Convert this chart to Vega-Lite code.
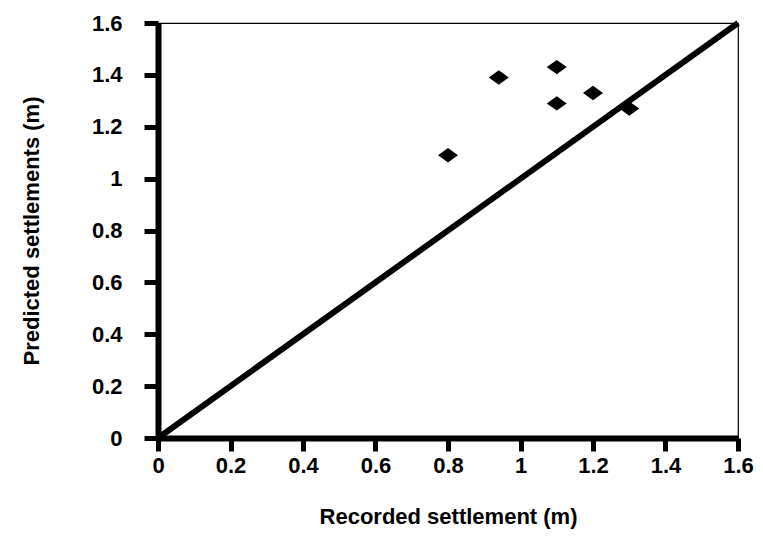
{
  "$schema": "https://vega.github.io/schema/vega-lite/v6.json",
  "width": 580,
  "height": 415,
  "autosize": {"type": "none"},
  "padding": {"left": 158, "top": 23, "right": 25, "bottom": 113},
  "background": "white",
  "config": {
    "view": {"stroke": "black", "strokeWidth": 1.2},
    "axis": {
      "grid": false,
      "labelFont": "Liberation Sans", "labelFontWeight": "bold", "labelFontSize": 22, "labelColor": "black",
      "titleFont": "Liberation Sans", "titleFontWeight": "bold", "titleFontSize": 22, "titleColor": "black",
      "domainColor": "black", "domainWidth": 6,
      "tickColor": "black", "tickWidth": 5, "tickSize": 13
    }
  },
  "encoding": {
    "x": {
      "field": "x", "type": "quantitative",
      "scale": {"domain": [0, 1.6], "nice": false},
      "axis": {
        "title": "Recorded settlement (m)",
        "values": [0, 0.2, 0.4, 0.6, 0.8, 1, 1.2, 1.4, 1.6],
        "format": ".1~f",
        "labelFlush": false, "labelOverlap": false,
        "domainWidth": 6, "tickWidth": 5, "tickSize": 13,
        "labelPadding": 4, "titlePadding": 30
      }
    },
    "y": {
      "field": "y", "type": "quantitative",
      "scale": {"domain": [0, 1.6], "nice": false},
      "axis": {
        "title": "Predicted settlements (m)",
        "values": [0, 0.2, 0.4, 0.6, 0.8, 1, 1.2, 1.4, 1.6],
        "format": ".1~f",
        "labelFlush": false, "labelOverlap": false,
        "domainWidth": 6, "tickWidth": 5, "tickSize": 14,
        "labelPadding": 22, "titlePadding": 48
      }
    }
  },
  "layer": [
    {
      "data": {"values": [{"x": 0, "y": 0}, {"x": 1.6, "y": 1.6}]},
      "mark": {"type": "line", "color": "black", "strokeWidth": 6, "clip": false}
    },
    {
      "data": {"values": [
        {"x": 0.8, "y": 1.09},
        {"x": 0.94, "y": 1.39},
        {"x": 1.1, "y": 1.43},
        {"x": 1.1, "y": 1.29},
        {"x": 1.2, "y": 1.33},
        {"x": 1.3, "y": 1.27}
      ]},
      "mark": {"type": "point", "filled": true, "color": "black", "opacity": 1, "shape": "M-1,0L0,-0.72L1,0L0,0.72Z", "size": 400}
    }
  ]
}
